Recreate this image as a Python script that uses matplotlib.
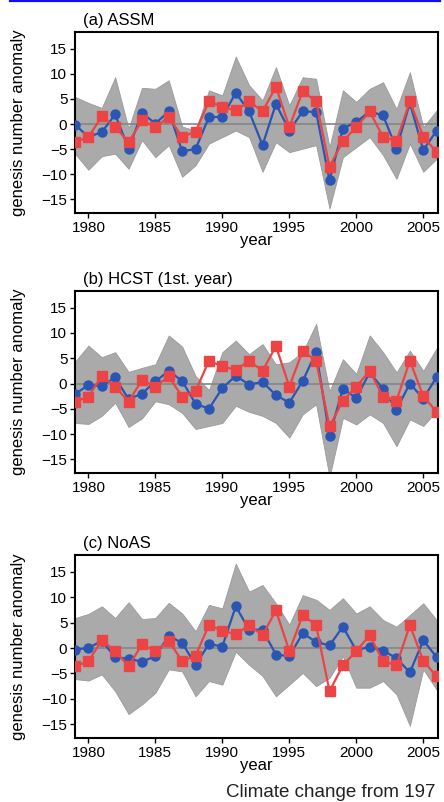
import matplotlib
matplotlib.use('Agg')
import matplotlib.pyplot as plt
from matplotlib.lines import Line2D

plt.rcParams['font.family'] = ['Liberation Sans', 'DejaVu Sans']

# data
years = list(range(1979, 2007))

obs = [-3.6, -2.6, 1.5, -0.6, -3.6, 0.7, -0.6, 1.4, -2.6, -1.5, 4.5, 3.4, 2.7, 4.5,
       2.5, 7.4, -0.6, 6.5, 4.5, -8.5, -3.4, -0.6, 2.5, -2.6, -3.4, 4.5, -2.5, -5.6]

assm_mean = [-0.1, -2.6, -1.6, 1.9, -4.9, 2.2, 0.1, 2.5, -5.4, -5.0, 1.4, 1.4, 6.2, 2.5,
             -4.2, 4.0, -1.3, 2.5, 2.4, -11.2, -0.9, 0.4, 2.5, 1.7, -4.9, 4.2, -5.2, -1.3]
assm_hi = [5.4, 4.2, 3.2, 9.3, -0.9, 7.2, 7.0, 8.7, -0.5, -1.3, 6.7, 5.7, 13.4, 7.7,
           4.7, 11.3, 3.7, 9.3, 9.0, -4.6, 6.7, 4.4, 7.0, 8.3, 3.0, 10.3, -0.6, 2.7]
assm_lo = [-5.9, -9.1, -6.4, -5.9, -8.9, -3.2, -6.6, -4.2, -10.5, -8.2, -3.9, -2.6, -1.3, -2.6,
           -9.5, -3.6, -5.6, -4.9, -4.2, -16.8, -6.6, -4.6, -2.6, -6.2, -10.9, -3.9, -9.5, -6.9]

hcst_mean = [-2.1, -0.3, -0.5, 1.2, -3.1, -2.0, 0.4, 2.5, 0.5, -4.0, -5.0, -0.9, 1.5, -0.2,
             0.3, -2.3, -3.8, 0.5, 6.2, -10.3, -1.0, -2.9, 2.2, -1.1, -5.2, 0.0, -3.0, 1.3]
hcst_hi = [4.3, 7.5, 5.2, 6.2, 2.3, 3.1, 3.8, 9.5, 7.3, 1.5, -1.3, 6.2, 8.5, 5.8,
           7.8, 3.8, 4.2, 6.2, 11.8, -1.5, 4.8, 1.9, 9.5, 6.2, 2.2, 6.5, 2.5, 7.0]
hcst_lo = [-7.8, -8.0, -6.4, -3.8, -8.6, -6.9, -3.5, -4.1, -5.8, -9.0, -8.4, -7.8, -4.4, -5.6,
           -6.4, -7.8, -10.7, -6.1, -4.1, -18.5, -6.8, -8.1, -6.1, -7.8, -12.4, -7.1, -8.4, -5.4]

noas_mean = [-0.3, 0.0, 1.4, -1.8, -2.1, -2.7, -1.6, 2.4, 1.0, -3.3, 0.8, 0.3, 8.2, 3.6,
             3.6, -1.3, -1.6, 2.9, 1.2, 0.5, 4.2, -0.5, 0.3, -0.5, -2.0, -4.8, 1.5, -1.8]
noas_hi = [5.9, 6.7, 8.2, 5.9, 9.0, 5.7, 5.9, 8.9, 6.8, 3.3, 8.5, 7.8, 16.6, 11.1,
           12.4, 8.8, 4.6, 10.4, 9.5, 7.5, 9.8, 6.8, 8.2, 5.5, 4.2, 6.5, 8.8, 5.5]
noas_lo = [-6.1, -6.4, -5.2, -8.5, -13.0, -11.1, -8.8, -4.2, -4.6, -9.5, -6.5, -7.2, -0.7, -3.3,
           -5.5, -9.5, -7.2, -4.9, -7.5, -5.9, -1.6, -7.8, -7.8, -6.5, -9.1, -15.3, -4.2, -8.2]

titles = ['(a) ASSM', '(b) HCST (1st. year)', '(c) NoAS']
means = [assm_mean, hcst_mean, noas_mean]
his = [assm_hi, hcst_hi, noas_hi]
los = [assm_lo, hcst_lo, noas_lo]

# axes boxes in pixels (top, bottom)
W, H = 444, 802
boxes = [(32, 213), (291, 473), (555, 738)]
left, right = 75, 438

fig = plt.figure(figsize=(W / 100, H / 100), dpi=100)

# cut-off hyperlink underline at the very top
fig.add_artist(Line2D([10 / W, 440 / W], [1 - 1 / H, 1 - 1 / H], color='#1010ee', lw=1.6))

blue = '#2b55b3'
red = '#ec4444'

for i in range(3):
    top, bot = boxes[i]
    ax = fig.add_axes([left / W, 1 - bot / H, (right - left) / W, (bot - top) / H])
    ax.fill_between(years, los[i], his[i], color='#aaaaaa', lw=0.6, edgecolor='#9a9a9a', zorder=1)
    ax.axhline(0, color='#858585', lw=1.2, zorder=2)
    ax.plot(years, means[i], color=blue, lw=1.6, marker='o', ms=6.5, zorder=3)
    ax.plot(years, obs, color=red, lw=1.6, marker='s', ms=6.5, zorder=4)

    ax.set_xlim(1979, 2006.1)
    ax.set_ylim(-17.7, 18.3)
    ax.set_xticks([1980, 1985, 1990, 1995, 2000, 2005])
    ax.set_yticks([-15, -10, -5, 0, 5, 10, 15])
    ax.set_yticklabels(['\u221215', '\u221210', '\u22125', '0', '5', '10', '15'])
    ax.tick_params(direction='out', length=3.5, width=1, labelsize=11, pad=2)
    for s in ax.spines.values():
        s.set_linewidth(1.5)
    ax.set_xlabel('year', fontsize=12, labelpad=-1)
    ax.set_ylabel('genesis number anomaly', fontsize=12, labelpad=11)
    ax.text(0.022, 1.02, titles[i], transform=ax.transAxes, fontsize=12, ha='left', va='bottom')

fig.text(226 / W, 1 - 797 / H, 'Climate change from 197', fontsize=13.5, ha='left', va='baseline',
         color='#222222')

fig.savefig('out.png', dpi=100)
